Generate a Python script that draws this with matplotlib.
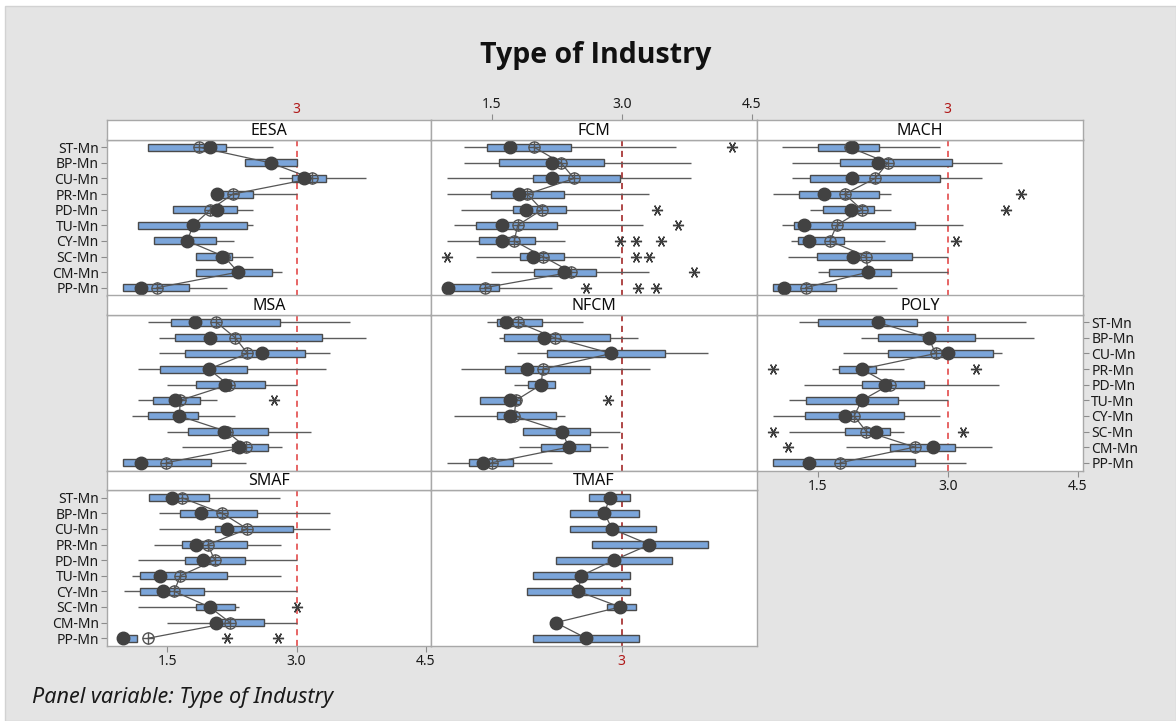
import matplotlib
matplotlib.use("Agg")
import matplotlib.pyplot as plt
from matplotlib.patches import Rectangle

plt.rcParams['font.family'] = ['Noto Sans', 'DejaVu Sans']

categories = ["ST-Mn", "BP-Mn", "CU-Mn", "PR-Mn", "PD-Mn",
              "TU-Mn", "CY-Mn", "SC-Mn", "CM-Mn", "PP-Mn"]

# one row per category: whisker low, Q1, median, mean, Q3, whisker high
eesa = [(1.27, 1.27, 2.00, 1.87, 2.18, 2.73),
        (2.40, 2.40, 2.70, 2.70, 3.00, 3.00),
        (2.80, 2.95, 3.09, 3.18, 3.34, 3.81),
        (2.04, 2.04, 2.08, 2.26, 2.50, 3.00),
        (1.57, 1.57, 2.08, 2.00, 2.31, 2.50),
        (1.16, 1.16, 1.80, 1.80, 2.43, 2.50),
        (1.35, 1.35, 1.73, 1.73, 2.07, 2.27),
        (1.83, 1.83, 2.14, 2.16, 2.25, 2.50),
        (1.83, 1.83, 2.32, 2.32, 2.72, 2.83),
        (0.99, 0.99, 1.19, 1.38, 1.75, 2.19)]
eesa_out = [[], [], [], [], [], [], [], [], [], []]

fcm = [(1.18, 1.45, 1.71, 1.99, 2.41, 3.62),
       (1.18, 1.59, 2.20, 2.30, 2.80, 3.80),
       (0.98, 1.98, 2.19, 2.45, 2.98, 3.80),
       (0.98, 1.49, 1.82, 1.91, 2.33, 3.32),
       (1.15, 1.75, 1.90, 2.08, 2.36, 2.98),
       (1.07, 1.32, 1.62, 1.80, 2.25, 3.24),
       (0.98, 1.35, 1.62, 1.76, 2.00, 2.35),
       (1.32, 1.83, 1.98, 2.09, 2.33, 2.98),
       (1.49, 1.99, 2.33, 2.42, 2.70, 3.32),
       (0.98, 0.98, 1.00, 1.42, 1.59, 2.20)]
fcm_out = [[4.27], [], [], [], [3.41], [3.65], [2.98, 3.17, 3.45],
           [0.98, 3.17, 3.32], [3.83], [2.59, 3.19, 3.40]]

mach = [(1.09, 1.50, 1.90, 1.87, 2.21, 2.91),
        (1.20, 1.76, 2.20, 2.31, 3.05, 3.62),
        (1.20, 1.41, 1.89, 2.16, 2.91, 3.40),
        (0.99, 1.29, 1.57, 1.81, 2.21, 2.34),
        (1.41, 1.56, 1.88, 2.01, 2.15, 2.34),
        (1.09, 1.23, 1.34, 1.72, 2.62, 3.18),
        (1.19, 1.27, 1.40, 1.64, 1.80, 2.28),
        (1.16, 1.49, 1.91, 2.06, 2.59, 3.00),
        (1.50, 1.63, 2.08, 2.08, 2.34, 3.00),
        (0.99, 0.99, 1.11, 1.36, 1.71, 2.41)]
mach_out = [[], [], [], [3.84], [3.67], [], [3.10], [], [], []]

msa = [(1.28, 1.54, 1.82, 2.07, 2.81, 3.62),
       (1.40, 1.59, 2.00, 2.29, 3.30, 3.81),
       (1.40, 1.70, 2.60, 2.43, 3.10, 3.39),
       (1.16, 1.42, 1.98, 1.98, 2.43, 3.34),
       (1.50, 1.83, 2.17, 2.21, 2.63, 3.00),
       (1.16, 1.33, 1.59, 1.65, 1.88, 2.08),
       (1.09, 1.28, 1.64, 1.64, 1.86, 2.28),
       (1.50, 1.74, 2.16, 2.19, 2.67, 3.17),
       (1.67, 2.25, 2.33, 2.41, 2.67, 2.83),
       (0.99, 0.99, 1.19, 1.49, 2.01, 2.41)]
msa_out = [[], [], [], [], [], [2.74], [], [], [], []]

nfcm = [(1.45, 1.56, 1.66, 1.80, 2.08, 2.55),
        (1.59, 1.64, 2.10, 2.23, 2.86, 3.19),
        (1.79, 2.14, 2.88, 2.88, 3.50, 4.00),
        (1.15, 1.65, 1.91, 2.09, 2.63, 3.33),
        (1.76, 1.92, 2.07, 2.07, 2.23, 2.23),
        (1.36, 1.37, 1.71, 1.78, 1.83, 1.83),
        (1.07, 1.56, 1.71, 1.76, 2.24, 2.35),
        (1.86, 1.86, 2.31, 2.31, 2.63, 2.98),
        (1.82, 2.07, 2.39, 2.39, 2.63, 2.84),
        (0.98, 1.24, 1.40, 1.50, 1.75, 2.20)]
nfcm_out = [[], [], [], [], [], [2.84], [], [], [], []]

poly = [(1.28, 1.50, 2.19, 2.19, 2.64, 3.90),
        (2.00, 2.20, 2.78, 2.78, 3.31, 4.00),
        (1.79, 2.31, 3.00, 2.86, 3.52, 3.62),
        (1.67, 1.75, 2.01, 2.01, 2.17, 2.50),
        (1.34, 2.01, 2.28, 2.33, 2.73, 3.59),
        (1.17, 1.37, 2.01, 2.01, 2.43, 3.00),
        (0.99, 1.35, 1.81, 1.92, 2.50, 2.91),
        (1.17, 1.82, 2.17, 2.06, 2.33, 2.50),
        (1.83, 2.33, 2.83, 2.62, 3.08, 3.51),
        (0.99, 0.99, 1.40, 1.76, 2.62, 3.21)]
poly_out = [[], [], [], [0.99, 3.33], [], [], [], [0.99, 3.18], [1.16], []]

smaf = [(1.29, 1.29, 1.55, 1.67, 1.98, 2.81),
        (1.40, 1.65, 1.89, 2.14, 2.54, 3.39),
        (1.40, 2.05, 2.19, 2.43, 2.96, 3.39),
        (1.34, 1.67, 1.83, 1.97, 2.42, 2.82),
        (1.16, 1.70, 1.91, 2.05, 2.40, 3.00),
        (1.09, 1.18, 1.41, 1.65, 2.19, 2.82),
        (1.00, 1.18, 1.45, 1.58, 1.93, 3.00),
        (1.16, 1.83, 1.99, 1.99, 2.28, 2.33),
        (1.50, 2.04, 2.07, 2.23, 2.62, 3.00),
        (0.94, 0.94, 0.99, 1.28, 1.15, 1.15)]
smaf_out = [[], [], [], [], [], [], [], [3.00], [], [2.19, 2.79]]

tmaf = [(2.62, 2.62, 2.86, 2.86, 3.09, 3.09),
        (2.40, 2.40, 2.80, 2.80, 3.20, 3.20),
        (2.40, 2.40, 2.89, 2.89, 3.40, 3.40),
        (2.66, 2.66, 3.32, 3.32, 4.00, 4.00),
        (2.24, 2.24, 2.91, 2.91, 3.58, 3.58),
        (1.98, 1.98, 2.53, 2.53, 3.09, 3.09),
        (1.91, 1.91, 2.50, 2.50, 3.09, 3.09),
        (2.83, 2.83, 2.98, 2.98, 3.17, 3.17),
        (2.24, 2.24, 2.24, 2.24, 2.24, 2.24),
        (1.98, 1.98, 2.59, 2.59, 3.20, 3.20)]
tmaf_out = [[], [], [], [], [], [], [], [], [], []]

panels = [("EESA", eesa, eesa_out, 0, 0), ("FCM", fcm, fcm_out, 0, 1),
          ("MACH", mach, mach_out, 0, 2), ("MSA", msa, msa_out, 1, 0),
          ("NFCM", nfcm, nfcm_out, 1, 1), ("POLY", poly, poly_out, 1, 2),
          ("SMAF", smaf, smaf_out, 2, 0), ("TMAF", tmaf, tmaf_out, 2, 1)]

ref_value = 3.0
xticks = [1.5, 3.0, 4.5]

W, H = 1176, 721
col_edges = [107, 431, 757, 1083]
row_tops = [120, 295, 470.5]
strip_h = 19.5
plot_h = 156

box_color = "#7ba5da"
edge_color = "#4a4a4a"
dark = "#424242"
label_red = "#b01818"

fig = plt.figure(figsize=(W / 100, H / 100), dpi=100)
fig.patch.set_facecolor("white")
fig.patches.append(Rectangle((5 / W, 0), 1 - 5 / W, 1 - 6 / H, transform=fig.transFigure,
                             facecolor="#e4e4e4", edgecolor="#d2d2d2", lw=1, zorder=-10))


def px_axes(x0, y0, x1, y1):
    return fig.add_axes([x0 / W, 1 - y1 / H, (x1 - x0) / W, (y1 - y0) / H])


def style_spines(ax):
    for s in ax.spines.values():
        s.set_color("#a8a8a8")
        s.set_linewidth(1)


for name, stats, outs, r, c in panels:
    x0, x1 = col_edges[c], col_edges[c + 1]
    top = row_tops[r]
    ax = px_axes(x0, top + strip_h, x1, top + strip_h + plot_h)
    strip = px_axes(x0, top, x1, top + strip_h)

    ax.set_xlim(0.8, 4.56)
    ax.set_ylim(9.5, -0.5)
    strip.set_xlim(0.8, 4.56)
    strip.set_ylim(0, 1)
    style_spines(ax)
    style_spines(strip)
    strip.text(0.5, 0.45, name, transform=strip.transAxes, ha="center", va="center",
               fontsize=11.5, color="#0d0d0d")

    ref_col = "#9a1515" if c == 1 else "#e03a3a"
    ax.axvline(ref_value, color=ref_col, ls=(0, (4, 3)), lw=1.1, zorder=1)

    ys = list(range(len(categories)))
    lo = [s[0] for s in stats]
    q1 = [s[1] for s in stats]
    med = [s[2] for s in stats]
    mean = [s[3] for s in stats]
    q3 = [s[4] for s in stats]
    hi = [s[5] for s in stats]

    ax.hlines(ys, lo, q1, color="#5c5c5c", lw=1, zorder=1.5)
    ax.hlines(ys, q3, hi, color="#5c5c5c", lw=1, zorder=1.5)
    ax.barh(ys, [b - a for a, b in zip(q1, q3)], left=q1, height=0.44,
            color=box_color, edgecolor=edge_color, lw=1, zorder=2)

    # mean connect line with crosshair symbols, medians as solid dots
    ax.plot(mean, ys, color="#555555", lw=0.9, zorder=3)
    ax.plot(mean, ys, "o", ms=8, mfc="none", mec="#555555", mew=1, zorder=4)
    ax.plot(mean, ys, "+", ms=8, mec="#555555", mew=1, zorder=4)
    ax.plot(med, ys, "o", ms=9, color=dark, zorder=5)

    for y, vals in zip(ys, outs):
        if vals:
            ax.plot(vals, [y] * len(vals), ls="none", marker=(6, 2, 90), ms=8,
                    mec="#3c3c3c", mew=1.0, zorder=4)

    # axis ticks and labels
    ax.tick_params(axis="both", length=4, color="#8c8c8c", labelsize=10,
                   labelcolor="#1a1a1a", pad=2)
    strip.set_yticks([])
    ax.set_yticks(ys)
    if c == 0 and r != 1:
        ax.set_yticklabels(categories)
    elif c == 2 and r == 1:
        ax.yaxis.tick_right()
        ax.set_yticklabels(categories)
    else:
        ax.set_yticks([])

    bottom_row = (r == 2) or (r == 1 and c == 2)
    if bottom_row and c != 1:
        ax.set_xticks(xticks)
        ax.set_xticklabels([f"{t:.1f}" for t in xticks])
    elif bottom_row:
        ax.set_xticks([ref_value])
        ax.set_xticklabels(["3"], color=label_red)
    else:
        ax.set_xticks([])

    strip.tick_params(axis="x", length=4, color="#8c8c8c", labelsize=10,
                      labelcolor="#1a1a1a", pad=2, top=True, bottom=False,
                      labeltop=True, labelbottom=False)
    if r == 0 and c == 1:
        strip.set_xticks(xticks)
        strip.set_xticklabels([f"{t:.1f}" for t in xticks])
    elif r == 0:
        strip.set_xticks([ref_value])
        strip.set_xticklabels(["3"], color=label_red)
        strip.tick_params(axis="x", length=0)
    else:
        strip.set_xticks([])

fig.text(596 / W, 1 - 55 / H, "Type of Industry", ha="center", va="center",
         fontsize=20.5, fontweight="bold", family=["Open Sans", "DejaVu Sans"],
         color="#111111")
fig.text(32 / W, 1 - 698 / H, "Panel variable: Type of Industry", ha="left", va="center",
         fontsize=15.5, style="italic", color="#1a1a1a")

fig.savefig("out.png", dpi=100, facecolor=fig.get_facecolor())
